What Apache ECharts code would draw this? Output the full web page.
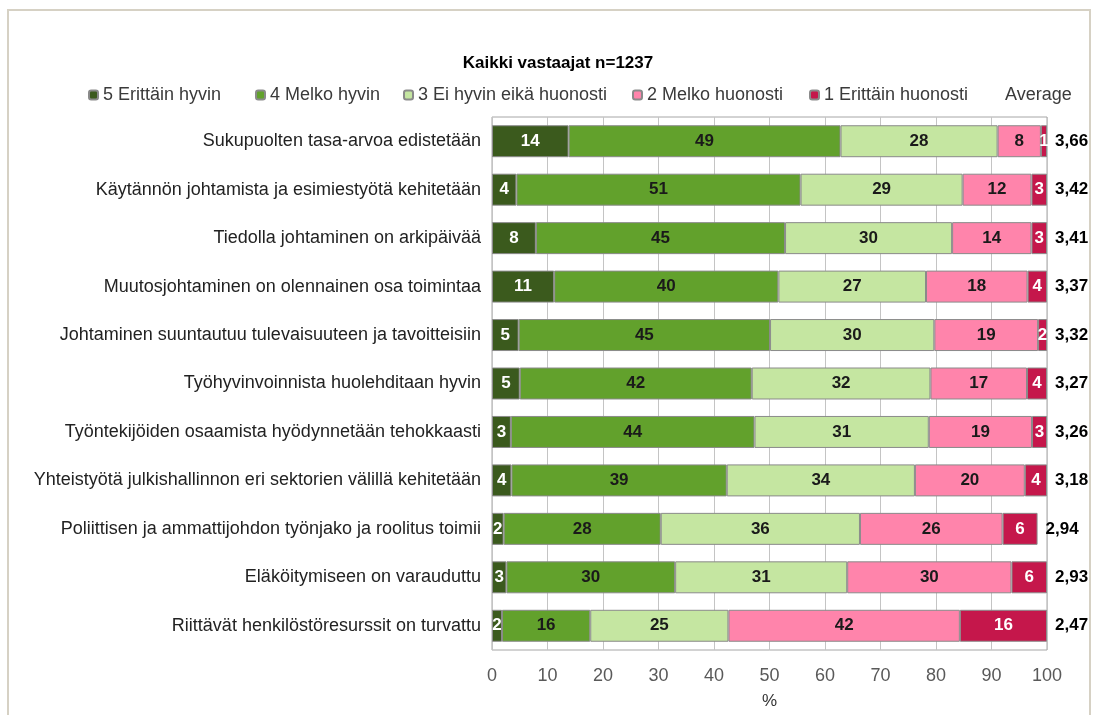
<!DOCTYPE html>
<html>
<head>
<meta charset="utf-8">
<script src="https://cdn.jsdelivr.net/npm/echarts@6/dist/echarts.min.js"></script>
<style>
html,body{margin:0;padding:0;background:#fff;overflow:hidden;}
#c{width:1098px;height:715px;}
</style>
</head>
<body>
<div id="c"></div>
<script>
const categories = [
  "Sukupuolten tasa-arvoa edistetään",
  "Käytännön johtamista ja esimiestyötä kehitetään",
  "Tiedolla johtaminen on arkipäivää",
  "Muutosjohtaminen on olennainen osa toimintaa",
  "Johtaminen suuntautuu tulevaisuuteen ja tavoitteisiin",
  "Työhyvinvoinnista huolehditaan hyvin",
  "Työntekijöiden osaamista hyödynnetään tehokkaasti",
  "Yhteistyötä julkishallinnon eri sektorien välillä kehitetään",
  "Poliittisen ja ammattijohdon työnjako ja roolitus toimii",
  "Eläköitymiseen on varauduttu",
  "Riittävät henkilöstöresurssit on turvattu"
];
const seriesNames = ["5 Erittäin hyvin", "4 Melko hyvin", "3 Ei hyvin eikä huonosti", "2 Melko huonosti", "1 Erittäin huonosti"];
const v5 = [13.8, 4.4, 7.9, 11.2, 4.8, 5.0, 3.4, 3.5, 2.1, 2.6, 1.8];
const v4 = [49.0, 51.2, 44.9, 40.4, 45.3, 41.8, 43.9, 38.8, 28.3, 30.4, 15.9];
const v3 = [28.3, 29.2, 30.1, 26.6, 29.6, 32.2, 31.4, 33.9, 35.9, 31.0, 24.9];
const v2 = [7.8, 12.4, 14.3, 18.3, 18.7, 17.4, 18.6, 19.8, 25.7, 29.6, 41.7];
const v1 = [1.1, 2.8, 2.8, 3.5, 1.6, 3.6, 2.7, 4.0, 6.3, 6.4, 15.7];
const averages = ["3,66", "3,42", "3,41", "3,37", "3,32", "3,27", "3,26", "3,18", "2,94", "2,93", "2,47"];
const xTicks = [0, 10, 20, 30, 40, 50, 60, 70, 80, 90, 100];

const colors = ["#3b5a1d", "#62a12c", "#c5e6a1", "#ff84ab", "#c5174b"];
const labelColors = ["#ffffff", "#1a1a1a", "#1a1a1a", "#1a1a1a", "#ffffff"];
const values = [v5, v4, v3, v2, v1];
const FONT = "'Liberation Sans', Arial, sans-serif";
const FS = 17;

const series = values.map((vals, i) => ({
  name: seriesNames[i],
  type: 'bar',
  stack: 'total',
  barCategoryGap: '34%',
  data: vals,
  itemStyle: { color: colors[i], borderColor: '#8a8a8a', borderWidth: 1 },
  label: {
    show: true,
    position: 'inside',
    color: labelColors[i],
    fontFamily: FONT,
    fontSize: FS,
    fontWeight: 'bold',
    formatter: p => Math.round(p.value)
  }
}));
series.push({
  name: 'Average',
  type: 'bar',
  stack: 'total',
  data: categories.map(() => 0.0001),
  itemStyle: { color: 'rgba(0,0,0,0)', borderWidth: 0 },
  label: {
    show: true,
    position: 'right',
    distance: 8,
    color: '#000',
    fontFamily: FONT,
    fontSize: FS,
    fontWeight: 'bold',
    formatter: p => averages[p.dataIndex]
  }
});

const legendLefts = [83, 250, 398, 627, 804, 986];
const legendNames = seriesNames.concat(['Average']);
const legends = legendNames.map((n, i) => ({
  data: [n],
  left: legendLefts[i],
  top: 81,
  itemWidth: 9,
  itemHeight: 9,
  itemGap: 0,
  textStyle: { fontFamily: FONT, fontSize: 18, color: '#3a3a3a' },
  selectedMode: false
}));

const chart = echarts.init(document.getElementById('c'));
chart.setOption({
  animation: false,
  backgroundColor: '#fff',
  title: {
    text: 'Kaikki vastaajat n=1237',
    left: 553, top: 50, textAlign: 'center',
    textStyle: { fontFamily: FONT, fontSize: FS, fontWeight: 'bold', color: '#000' }
  },
  legend: legends,
  graphic: [{
    type: 'rect',
    shape: { x: 8, y: 10, width: 1082, height: 712 },
    style: { fill: 'none', stroke: '#d6d1c4', lineWidth: 2 },
    silent: true
  }],
  grid: {
    left: 492, right: 51, top: 117, bottom: 53,
    show: true, borderColor: '#a6a6a6', borderWidth: 1
  },
  xAxis: {
    type: 'value', min: 0, max: 100, interval: 10,
    name: '%', nameLocation: 'middle', nameGap: 43,
    nameTextStyle: { fontFamily: FONT, fontSize: FS, color: '#333' },
    axisLine: { show: false },
    axisTick: { show: false },
    splitLine: { show: true, lineStyle: { color: '#c4c4c4', width: 1 } },
    axisLabel: { fontFamily: FONT, fontSize: 18, color: '#595959', margin: 17,
      formatter: v => xTicks.includes(v) ? String(v) : '' }
  },
  yAxis: {
    type: 'category', inverse: true, data: categories,
    axisLine: { show: false }, axisTick: { show: false },
    axisLabel: { fontFamily: FONT, fontSize: 18, color: '#222', margin: 11 }
  },
  series: series
});
</script>
</body>
</html>
